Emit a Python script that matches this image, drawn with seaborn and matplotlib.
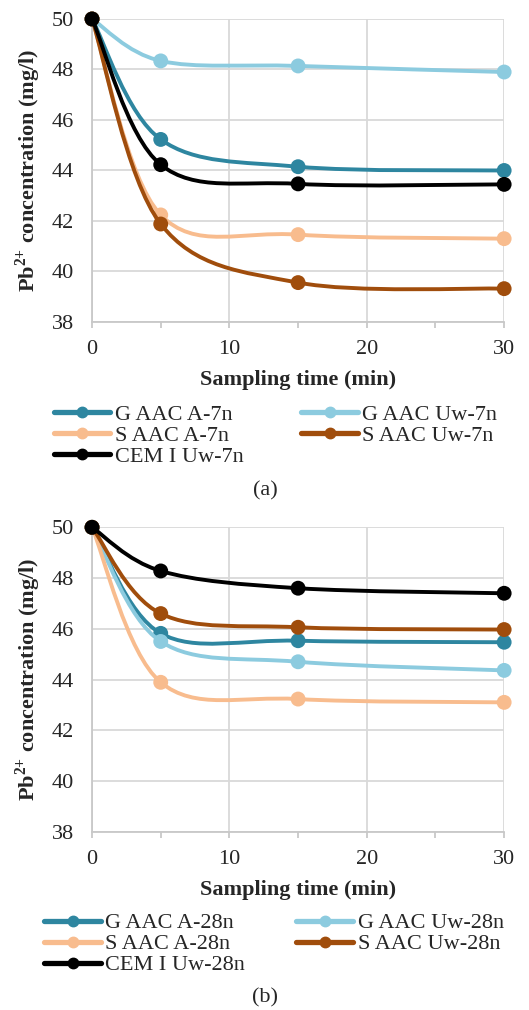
import numpy as np
import pandas as pd
import matplotlib
matplotlib.use("Agg")
import matplotlib.pyplot as plt
import seaborn as sns
from matplotlib.path import Path
from matplotlib.patches import PathPatch
from matplotlib.lines import Line2D

# sampling times (min)
time = [0, 5, 15, 30]

# panel (a) - 7 days
g_a_7 = [50, 45.23, 44.15, 44.0]
g_uw_7 = [50, 48.34, 48.14, 47.9]
s_a_7 = [50, 42.24, 41.46, 41.3]
s_uw_7 = [50, 41.88, 39.56, 39.32]
cem_7 = [50, 44.23, 43.47, 43.45]

# panel (b) - 28 days
g_a_28 = [50, 45.82, 45.53, 45.47]
g_uw_28 = [50, 45.5, 44.7, 44.36]
s_a_28 = [50, 43.89, 43.23, 43.1]
s_uw_28 = [50, 46.6, 46.06, 45.97]
cem_28 = [50, 48.28, 47.6, 47.4]

labels_a = ["G AAC A-7n", "G AAC Uw-7n", "S AAC A-7n", "S AAC Uw-7n", "CEM I Uw-7n"]
labels_b = ["G AAC A-28n", "G AAC Uw-28n", "S AAC A-28n", "S AAC Uw-28n", "CEM I Uw-28n"]
colors = ["#2E86A0", "#8CCBDF", "#F8BC8E", "#A04D0C", "#000000"]

sns.set_theme(style="white")
plt.rcParams["font.family"] = ["Liberation Serif", "DejaVu Serif"]
plt.rcParams["mathtext.fontset"] = "custom"
plt.rcParams["mathtext.rm"] = "Liberation Serif"
plt.rcParams["mathtext.bf"] = "Liberation Serif:bold"

FS = 16


def smooth_path(x, y):
    """Excel-like smoothed line: Catmull-Rom as cubic Bezier segments."""
    pts = np.column_stack([x, y]).astype(float)
    ext = np.vstack([pts[0], pts, pts[-1]])
    verts = [pts[0]]
    codes = [Path.MOVETO]
    for i in range(1, len(ext) - 2):
        p0, p1, p2, p3 = ext[i - 1], ext[i], ext[i + 1], ext[i + 2]
        verts += [p1 + (p2 - p0) / 6, p2 - (p3 - p1) / 6, p2]
        codes += [Path.CURVE4] * 3
    return Path(verts, codes)


def draw_panel(ax, series, labels):
    for i, (vals, lab, col) in enumerate(zip(series, labels, colors)):
        patch = PathPatch(smooth_path(time, vals), facecolor="none", edgecolor=col,
                          lw=2.8, zorder=3 + i * 2, capstyle="round")
        ax.add_patch(patch)
        df = pd.DataFrame({"time": time, "conc": vals})
        sns.scatterplot(data=df, x="time", y="conc", color=col, s=115, edgecolor="none",
                        ax=ax, zorder=4 + i * 2, clip_on=False, legend=False)

    ax.set_xlim(0, 30)
    ax.set_ylim(38, 50)
    ax.set_xticks([0, 10, 20, 30])
    ax.set_xticks([5, 15, 25], minor=True)
    ax.set_yticks(range(38, 51, 2))
    ax.grid(True, which="major", color="#D9D9D9", lw=1.3)
    ax.set_axisbelow(True)
    for s in ["top", "right"]:
        ax.spines[s].set_visible(False)
    for s in ["left", "bottom"]:
        ax.spines[s].set_color("#C8C8C8")
        ax.spines[s].set_linewidth(1.3)
    ax.tick_params(axis="x", which="both", direction="out", length=4, width=1.3,
                   color="#C8C8C8", labelsize=FS, pad=9, bottom=True)
    ax.tick_params(axis="y", length=0, labelsize=FS, pad=13)
    ax.set_xlabel("Sampling time (min)", fontsize=FS, fontweight="bold", labelpad=8)
    ax.set_ylabel(r"Pb$^{\mathbf{2{+}}}$ concentration (mg/l)", fontsize=FS,
                  fontweight="bold", labelpad=6)


def add_legend(fig, labels, anchor, colspace):
    handles = [Line2D([0], [0], color=c, lw=3.8, marker="o", markersize=7.5) for c in colors]
    order = [0, 2, 4, 1, 3]
    fig.legend([handles[i] for i in order], [labels[i] for i in order],
               loc="center", bbox_to_anchor=anchor, ncol=2, frameon=False,
               fontsize=FS, handlelength=2.55, handletextpad=0.2, columnspacing=colspace,
               labelspacing=0.02, borderpad=0)


fig = plt.figure(figsize=(5.29, 10.10), dpi=100)
ax_a = fig.add_axes([0.174, 0.6812, 0.779, 0.3])
ax_b = fig.add_axes([0.174, 0.1765, 0.779, 0.3014])

draw_panel(ax_a, [g_a_7, g_uw_7, s_a_7, s_uw_7, cem_7], labels_a)
draw_panel(ax_b, [g_a_28, g_uw_28, s_a_28, s_uw_28, cem_28], labels_b)

add_legend(fig, labels_a, (0.521, 1 - 436 / 1010), 2.6)
add_legend(fig, labels_b, (0.518, 1 - 944 / 1010), 2.3)

fig.text(0.501, 1 - 491 / 1010, "(a)", ha="center", va="center", fontsize=FS)
fig.text(0.501, 1 - 998 / 1010, "(b)", ha="center", va="center", fontsize=FS)

fig.savefig("out.png", dpi=100)
